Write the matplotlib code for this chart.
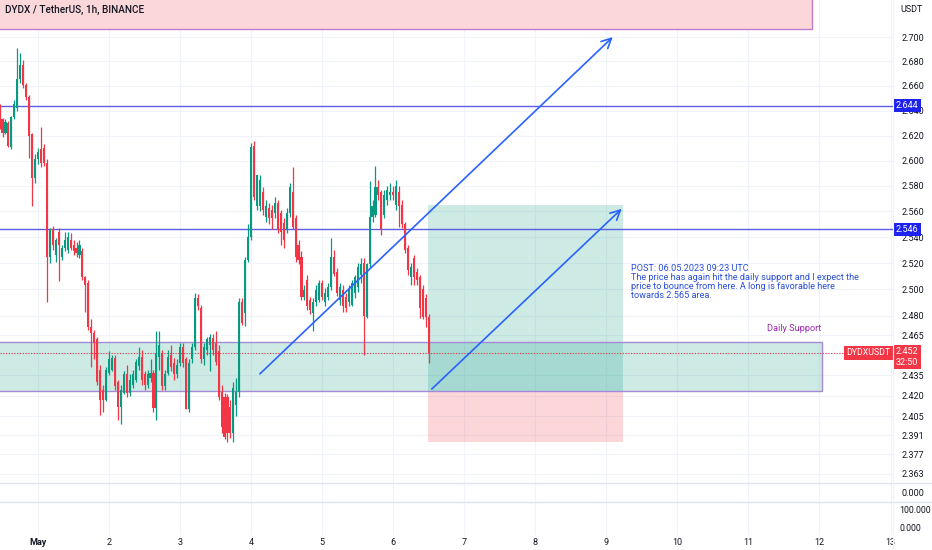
import pandas as pd
import numpy as np
import matplotlib
matplotlib.use("Agg")
import matplotlib.pyplot as plt
import matplotlib.dates as mdates
from matplotlib.patches import Rectangle
from matplotlib.ticker import FixedLocator, NullLocator

# hourly candles DYDX/USDT, starting 2023-04-30 11:00
times = pd.date_range("2023-04-30 11:00", periods=146, freq="h")

opens = [
    2.642, 2.633, 2.622, 2.630, 2.611, 2.635, 2.642, 2.666, 2.677, 2.661,
    2.651, 2.621, 2.586, 2.601, 2.609, 2.610, 2.598, 2.525, 2.546, 2.526,
    2.544, 2.525, 2.532, 2.530, 2.538, 2.534, 2.532, 2.526, 2.529, 2.509,
    2.505, 2.471, 2.467, 2.462, 2.439, 2.424, 2.417, 2.437, 2.439, 2.448,
    2.430, 2.412, 2.422, 2.436, 2.422, 2.428, 2.432, 2.442, 2.449, 2.436,
    2.428, 2.433, 2.437, 2.411, 2.449, 2.452, 2.427, 2.437, 2.450, 2.444,
    2.436, 2.444, 2.456, 2.447, 2.410, 2.447, 2.456, 2.493, 2.486, 2.447,
    2.454, 2.458, 2.463, 2.459, 2.453, 2.423, 2.419, 2.419, 2.412, 2.393,
    2.413, 2.423, 2.490, 2.482, 2.522, 2.540, 2.612, 2.564, 2.564, 2.575,
    2.556, 2.563, 2.561, 2.559, 2.567, 2.559, 2.551, 2.546, 2.559, 2.575,
    2.555, 2.534, 2.525, 2.494, 2.507, 2.492, 2.482, 2.490, 2.492, 2.505,
    2.490, 2.494, 2.502, 2.525, 2.513, 2.492, 2.499, 2.494, 2.490, 2.488,
    2.497, 2.502, 2.511, 2.520, 2.479, 2.519, 2.556, 2.557, 2.579, 2.575,
    2.557, 2.569, 2.573, 2.575, 2.565, 2.575, 2.565, 2.550, 2.532, 2.509,
    2.524, 2.513, 2.509, 2.500, 2.493, 2.479,
]
highs = [
    2.645, 2.634, 2.633, 2.632, 2.636, 2.649, 2.691, 2.687, 2.681, 2.662,
    2.653, 2.622, 2.605, 2.610, 2.627, 2.613, 2.601, 2.547, 2.549, 2.539,
    2.547, 2.534, 2.544, 2.544, 2.543, 2.538, 2.536, 2.538, 2.532, 2.510,
    2.507, 2.477, 2.469, 2.464, 2.443, 2.428, 2.441, 2.453, 2.450, 2.450,
    2.432, 2.428, 2.438, 2.443, 2.436, 2.439, 2.447, 2.456, 2.454, 2.438,
    2.439, 2.447, 2.439, 2.468, 2.468, 2.454, 2.439, 2.454, 2.458, 2.448,
    2.447, 2.459, 2.459, 2.449, 2.447, 2.459, 2.497, 2.496, 2.488, 2.459,
    2.464, 2.466, 2.466, 2.468, 2.458, 2.428, 2.422, 2.421, 2.417, 2.430,
    2.433, 2.493, 2.493, 2.525, 2.550, 2.614, 2.616, 2.589, 2.589, 2.579,
    2.569, 2.567, 2.565, 2.571, 2.569, 2.561, 2.555, 2.563, 2.582, 2.595,
    2.557, 2.538, 2.529, 2.503, 2.511, 2.494, 2.493, 2.503, 2.507, 2.507,
    2.501, 2.505, 2.539, 2.530, 2.516, 2.505, 2.503, 2.497, 2.503, 2.507,
    2.511, 2.520, 2.524, 2.524, 2.520, 2.584, 2.569, 2.596, 2.585, 2.577,
    2.577, 2.580, 2.582, 2.580, 2.585, 2.580, 2.569, 2.552, 2.534, 2.520,
    2.526, 2.516, 2.511, 2.503, 2.496, 2.481,
]
lows = [
    2.625, 2.619, 2.621, 2.611, 2.609, 2.633, 2.640, 2.662, 2.658, 2.649,
    2.602, 2.564, 2.582, 2.597, 2.595, 2.596, 2.490, 2.520, 2.530, 2.521,
    2.506, 2.522, 2.529, 2.528, 2.530, 2.526, 2.525, 2.524, 2.507, 2.483,
    2.469, 2.441, 2.447, 2.428, 2.406, 2.408, 2.416, 2.435, 2.438, 2.424,
    2.402, 2.399, 2.421, 2.419, 2.420, 2.426, 2.430, 2.439, 2.428, 2.424,
    2.426, 2.430, 2.408, 2.402, 2.439, 2.424, 2.424, 2.435, 2.438, 2.432,
    2.433, 2.442, 2.441, 2.410, 2.408, 2.444, 2.454, 2.484, 2.444, 2.443,
    2.450, 2.438, 2.450, 2.443, 2.417, 2.393, 2.388, 2.386, 2.389, 2.386,
    2.405, 2.419, 2.473, 2.472, 2.521, 2.538, 2.569, 2.561, 2.560, 2.557,
    2.552, 2.550, 2.546, 2.555, 2.543, 2.534, 2.532, 2.543, 2.556, 2.546,
    2.521, 2.519, 2.492, 2.492, 2.484, 2.481, 2.468, 2.487, 2.490, 2.492,
    2.487, 2.492, 2.499, 2.510, 2.495, 2.488, 2.483, 2.483, 2.487, 2.487,
    2.493, 2.498, 2.505, 2.450, 2.478, 2.516, 2.552, 2.556, 2.569, 2.542,
    2.555, 2.565, 2.569, 2.569, 2.561, 2.548, 2.547, 2.528, 2.511, 2.503,
    2.503, 2.503, 2.478, 2.477, 2.471, 2.444,
]
closes = [
    2.631, 2.622, 2.631, 2.612, 2.635, 2.645, 2.666, 2.677, 2.661, 2.651,
    2.620, 2.586, 2.601, 2.607, 2.598, 2.598, 2.525, 2.546, 2.534, 2.538,
    2.534, 2.532, 2.538, 2.540, 2.532, 2.529, 2.528, 2.534, 2.509, 2.503,
    2.471, 2.467, 2.459, 2.430, 2.417, 2.417, 2.439, 2.447, 2.448, 2.427,
    2.412, 2.424, 2.436, 2.422, 2.432, 2.436, 2.445, 2.449, 2.432, 2.428,
    2.436, 2.437, 2.411, 2.452, 2.458, 2.427, 2.436, 2.449, 2.441, 2.436,
    2.443, 2.456, 2.444, 2.410, 2.444, 2.456, 2.493, 2.487, 2.447, 2.456,
    2.462, 2.464, 2.454, 2.445, 2.419, 2.397, 2.390, 2.393, 2.393, 2.426,
    2.423, 2.490, 2.474, 2.522, 2.540, 2.611, 2.571, 2.589, 2.585, 2.561,
    2.564, 2.555, 2.555, 2.567, 2.546, 2.544, 2.538, 2.559, 2.579, 2.548,
    2.525, 2.522, 2.494, 2.499, 2.487, 2.484, 2.490, 2.499, 2.505, 2.494,
    2.497, 2.502, 2.525, 2.512, 2.497, 2.502, 2.487, 2.486, 2.499, 2.505,
    2.509, 2.517, 2.519, 2.480, 2.519, 2.556, 2.564, 2.579, 2.573, 2.546,
    2.573, 2.577, 2.575, 2.573, 2.580, 2.564, 2.550, 2.530, 2.515, 2.517,
    2.509, 2.507, 2.486, 2.479, 2.479, 2.452,
]

price_ticks = [2.700, 2.680, 2.660, 2.640, 2.620, 2.600, 2.580, 2.560, 2.540, 2.520,
               2.500, 2.480, 2.465, 2.452, 2.435, 2.420, 2.405, 2.391, 2.377, 2.363]
day_ticks = pd.date_range("2023-05-01", "2023-05-13", freq="D")
day_labels = ["May", "2", "3", "4", "5", "6", "7", "8", "9", "10", "11", "12", "13"]

resistance_levels = [2.644, 2.546]
support_top, support_bottom = 2.460, 2.4236
entry, target, stop = 2.4236, 2.565, 2.386
last_price = 2.452

UP = "#089981"
DOWN = "#f23645"
BLUE = "#2962ff"
TXT = "#131722"
GRID = "#f0f3fa"

df = pd.DataFrame({"open": opens, "high": highs, "low": lows, "close": closes}, index=times)

plt.rcParams["font.family"] = ["Roboto", "DejaVu Sans"]
fig = plt.figure(figsize=(9.32, 5.5), dpi=100)
W, H = 932, 550
ax = fig.add_axes([0, 67 / H, 893 / W, 483 / H])
ax2 = fig.add_axes([0, 48 / H, 893 / W, 19 / H], sharex=ax)
ax3 = fig.add_axes([0, 15 / H, 893 / W, 33 / H], sharex=ax)

x_left = pd.Timestamp("2023-04-30 11:09")
x_right = pd.Timestamp("2023-05-13 00:50")

# candles
xs = mdates.date2num(df.index.to_pydatetime())
colors = np.where(df.close >= df.open, UP, DOWN)
ax.vlines(xs, df.low, df.high, color=colors, lw=0.9, zorder=3)
body_lo = np.minimum(df.open, df.close)
body_h = np.maximum(np.abs(df.close - df.open), 0.0008)
ax.bar(xs, body_h, bottom=body_lo, width=0.7 / 24, color=colors, lw=0, zorder=3)

ax.set_yscale("log")
ax.set_ylim(2.3564, 2.7307)
ax.set_xlim(x_left, x_right)
ax.yaxis.set_major_locator(FixedLocator(price_ticks))
ax.yaxis.set_minor_locator(NullLocator())
# the 2.452 tick sits under the last-price label, so its text is left blank
ax.set_yticklabels(["" if p == last_price else f"{p:.3f}" for p in price_ticks])
ax.yaxis.tick_right()
ax.tick_params(axis="y", length=0, pad=6, labelsize=6.5, labelcolor=TXT)
ax.set_xticks(day_ticks)
ax.tick_params(axis="x", length=0, labelbottom=False)
ax.grid(True, color=GRID, lw=0.8, zorder=0)
ax.set_axisbelow(True)
for s in ax.spines.values():
    s.set_visible(False)

# top pink box
ax.add_patch(Rectangle((mdates.date2num(x_left) - 1, 2.7066),
                       mdates.date2num(pd.Timestamp("2023-05-11 21:38")) - mdates.date2num(x_left) + 1,
                       0.1, facecolor="#fcd7da", edgecolor="#bf7dd1", lw=1, zorder=1))

# daily support zone
sx0 = mdates.date2num(x_left) - 1
sx1 = mdates.date2num(pd.Timestamp("2023-05-12 00:43"))
ax.add_patch(Rectangle((sx0, support_bottom), sx1 - sx0, support_top - support_bottom,
                       facecolor=UP, alpha=0.2, lw=0, zorder=1))
ax.add_patch(Rectangle((sx0, support_bottom), sx1 - sx0, support_top - support_bottom,
                       facecolor="none", edgecolor="#a48ad6", lw=1, zorder=2))
ax.text(sx1, 2.4665, "Daily Support", color="#9c27b0", fontsize=6.6, ha="right", va="bottom", zorder=5)

# long position tool
lx0 = mdates.date2num(pd.Timestamp("2023-05-06 11:41"))
lx1 = mdates.date2num(pd.Timestamp("2023-05-09 05:31"))
ax.add_patch(Rectangle((lx0, entry), lx1 - lx0, target - entry, facecolor=UP, alpha=0.2, lw=0, zorder=1))
ax.add_patch(Rectangle((lx0, stop), lx1 - lx0, entry - stop, facecolor=DOWN, alpha=0.2, lw=0, zorder=1))

# horizontal levels
for lvl in resistance_levels:
    ax.axhline(lvl, color="#5c5ce6", lw=1, zorder=2)
    ax.text(1.003, lvl, f"{lvl:.3f}", transform=ax.get_yaxis_transform(), color="white",
            fontsize=6.5, va="center", ha="left", clip_on=False, zorder=10,
            bbox=dict(boxstyle="square,pad=0.25", fc="#1e22ee", ec="none"))

# last price line and labels
ax.axhline(last_price, color=DOWN, lw=0.8, ls=(0, (1, 1.5)), zorder=2)
ax.text(1.003, last_price + 0.004, "2.452\n32:50", transform=ax.get_yaxis_transform(), color="white",
        fontsize=6.5, va="top", ha="left", clip_on=False, zorder=10, linespacing=1.2,
        bbox=dict(boxstyle="square,pad=0.3", fc=DOWN, ec="none"))
ax.text(0.9975, last_price, "DYDXUSDT", transform=ax.get_yaxis_transform(), color="white",
        fontsize=6.3, va="center", ha="right", clip_on=False, zorder=10,
        bbox=dict(boxstyle="square,pad=0.3", fc=DOWN, ec="none"))

# arrows
arrow_kw = dict(arrowstyle="->,head_length=0.7,head_width=0.35", color=BLUE, lw=1.2)
ax.annotate("", xy=(pd.Timestamp("2023-05-09 02:50"), 2.7016),
            xytext=(pd.Timestamp("2023-05-04 02:17"), 2.4348), arrowprops=arrow_kw, zorder=4)
ax.annotate("", xy=(pd.Timestamp("2023-05-09 05:51"), 2.5636),
            xytext=(pd.Timestamp("2023-05-06 12:21"), 2.4236), arrowprops=arrow_kw, zorder=4)

note = ("POST: 06.05.2023 09:23 UTC\n"
        "The price has again hit the daily support and I expect the\n"
        "price to bounce from here. A long is favorable here\n"
        "towards 2.565 area.")
ax.text(pd.Timestamp("2023-05-09 08:14"), 2.5195, note, color="#2a4fd8", fontsize=6.6,
        va="top", ha="left", linespacing=1.0, zorder=5)

# lower empty panes
ax2.set_ylim(-1, 1)
ax2.set_yticks([0])
ax2.set_yticklabels(["0.000"])
ax3.set_ylim(-44.4, 138.9)
ax3.set_yticks([100, 0])
ax3.set_yticklabels(["100.000", "0.000"])
for a in (ax2, ax3):
    a.yaxis.tick_right()
    a.tick_params(axis="y", length=0, pad=4.5, labelsize=6.3, labelcolor=TXT)
    a.grid(True, axis="x", color=GRID, lw=0.8)
    for s in a.spines.values():
        s.set_visible(False)
ax2.tick_params(axis="y", pad=6, labelsize=6.5)
ax2.tick_params(axis="x", length=0, labelbottom=False)
ax3.set_xticks(day_ticks)
ax3.set_xticklabels(day_labels)
ax3.tick_params(axis="x", length=0, pad=2, labelsize=6.5, labelcolor=TXT)
ax3.get_xticklabels()[0].set_fontweight("bold")
ax3.set_xlim(x_left, x_right)

# pane separators and price scale border
fig.add_artist(plt.Line2D([0, 1], [1 - 483 / H, 1 - 483 / H], color="#e0e3eb", lw=1))
fig.add_artist(plt.Line2D([0, 1], [1 - 502 / H, 1 - 502 / H], color="#e0e3eb", lw=1))
fig.add_artist(plt.Line2D([893 / W, 893 / W], [0, 1], color="#f0f3fa", lw=0.8))

fig.text(5 / W, 1 - 10 / H, "DYDX / TetherUS, 1h, BINANCE", fontsize=7.2, color=TXT,
         va="center", ha="left", fontweight="medium")
fig.text(912 / W, 1 - 10 / H, "USDT", fontsize=6.5, color=TXT, va="center", ha="center")

fig.savefig("out.png", dpi=100)
